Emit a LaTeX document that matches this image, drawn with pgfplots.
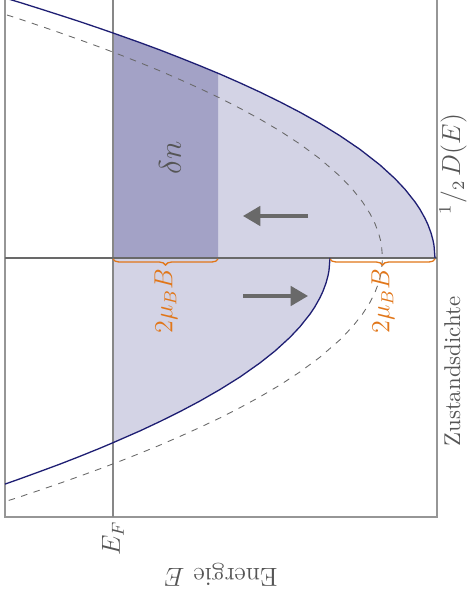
\documentclass[border=0pt]{standalone}
\usepackage{pgfplots}
\pgfplotsset{compat=1.18}
\usetikzlibrary{arrows.meta,decorations.pathreplacing}
\definecolor{curve}{RGB}{30,30,115}
\definecolor{lightfill}{RGB}{211,211,229}
\definecolor{darkfill}{RGB}{163,162,198}
\definecolor{frame}{RGB}{150,150,150}
\definecolor{midline}{RGB}{105,105,105}
\definecolor{efline}{RGB}{135,135,135}
\definecolor{txt}{RGB}{85,85,85}
\definecolor{arr}{RGB}{105,105,105}
\definecolor{brc}{RGB}{225,118,25}
\begin{document}
\begin{tikzpicture}
\begin{axis}[scale only axis, width=198.72pt, height=237.82pt,
  xmin=5, xmax=437, ymin=-259, ymax=258, axis lines=none, clip=false]
% upper occupied (light)
\addplot[fill=lightfill, draw=none] coordinates {(113,0) (113,225.0) (140,215.4) (160,208.0) (180,200.2) (200,192.2) (220,183.9) (240,175.1) (260,165.9) (280,156.1) (300,145.7) (320,134.5) (340,122.2) (360,108.6) (380,93.0) (395,79.31) (405,68.68) (415,56.08) (420,48.57) (425,39.65) (428,33.18) (431,25.08) (433,17.73) (434,12.54) (435,0)} -- cycle;
% delta n (dark)
\addplot[fill=darkfill, draw=none] coordinates {(113,0) (113,225.0) (140,215.4) (160,208.0) (180,200.2) (200,192.2) (218,184.7) (218,0)} -- cycle;
% lower occupied (light)
\addplot[fill=lightfill, draw=none] coordinates {(113,0) (113,-184.7) (140,-172.9) (160,-163.5) (180,-153.6) (200,-143.0) (220,-131.5) (240,-119.0) (260,-104.9) (275,-93.0) (290,-79.31) (300,-68.68) (310,-56.08) (315,-48.57) (320,-39.65) (323,-33.18) (326,-25.08) (328,-17.73) (329,-12.54) (330,0)} -- cycle;
% frame
\draw[frame, line width=0.7pt] (5,258) -- (5,-259) -- (437,-259) -- (437,258);
% E_F line and zero line
\draw[efline, line width=0.6pt] (113,258) -- (113,-259);
\draw[midline, line width=0.6pt] (5,0) -- (437,0);
% dashed unshifted
\addplot[midline, dashed, line width=0.4pt] coordinates {(7,243.0) (20,238.8) (40,232.1) (60,225.2) (80,218.1) (100,210.8) (120,203.2) (140,195.3) (160,187.1) (180,178.4) (200,169.4) (220,159.9) (240,149.7) (260,138.8) (280,127.0) (300,113.9) (320,99.14) (340,81.75) (352.5,68.68) (362.5,56.08) (370,44.33) (375,34.34) (378.5,25.08) (380.5,17.73) (381.5,12.54) (382.5,0) (381.5,-12.54) (380.5,-17.73) (378.5,-25.08) (375,-34.34) (370,-44.33) (362.5,-56.08) (352.5,-68.68) (340,-81.75) (320,-99.14) (300,-113.9) (280,-127.0) (260,-138.8) (240,-149.7) (220,-159.9) (200,-169.4) (180,-178.4) (160,-187.1) (140,-195.3) (120,-203.2) (100,-210.8) (80,-218.1) (60,-225.2) (40,-232.1) (20,-238.8) (7,-243.0)};
% upper band
\addplot[curve, line width=0.6pt] coordinates {(5,260.0) (20,255.5) (40,249.2) (60,242.8) (80,236.3) (100,229.5) (113,225.0) (140,215.4) (160,208.0) (180,200.2) (200,192.2) (220,183.9) (240,175.1) (260,165.9) (280,156.1) (300,145.7) (320,134.5) (340,122.2) (360,108.6) (380,93.0) (395,79.31) (405,68.68) (415,56.08) (420,48.57) (425,39.65) (428,33.18) (431,25.08) (433,17.73) (434,12.54) (435,0)};
% lower band
\addplot[curve, line width=0.6pt] coordinates {(5,-226.1) (20,-220.8) (40,-213.5) (60,-206.1) (80,-198.3) (100,-190.2) (113,-184.7) (140,-172.9) (160,-163.5) (180,-153.6) (200,-143.0) (220,-131.5) (240,-119.0) (260,-104.9) (275,-93.0) (290,-79.31) (300,-68.68) (310,-56.08) (315,-48.57) (320,-39.65) (323,-33.18) (326,-25.08) (328,-17.73) (329,-12.54) (330,0)};
% braces
\draw[brc, line width=0.6pt, decorate, decoration={brace, mirror, amplitude=2.8pt}] (113,-1) -- (218,-1);
\draw[brc, line width=0.6pt, decorate, decoration={brace, mirror, amplitude=2.8pt}] (330,-1) -- (435,-1);
\node[brc, rotate=90, anchor=east, inner sep=1pt] at (166,-8) {\large $2\mu_B B$};
\node[brc, rotate=90, anchor=east, inner sep=1pt] at (383,-8) {\large $2\mu_B B$};
% arrows
\draw[arr, line width=1.5pt, -{Triangle[length=8pt,width=9pt]}] (308,42) -- (243,42);
\draw[arr, line width=1.5pt, -{Triangle[length=8pt,width=9pt]}] (243,-38) -- (308,-38);
% delta n
\node[txt, rotate=90] at (170,100) {\Large $\delta n$};
% labels
\node[txt, rotate=90, anchor=east, inner sep=1pt] at (113,-261) {\large $E_F$};
\node[txt, rotate=180] at (221,-317) {\large Energie $E$};
\node[txt, rotate=90, anchor=west, inner sep=0pt] at (453,-189) {\fontsize{10.5}{12}\selectfont Zustandsdichte\hspace{38pt}{\large ${}^1/_2\,D(E)$}};
\coordinate (TL) at (0,258);
\coordinate (BR) at (466,-341);
\end{axis}
\pgfresetboundingbox
\path[use as bounding box] (TL) rectangle (BR);
\end{tikzpicture}
\end{document}
